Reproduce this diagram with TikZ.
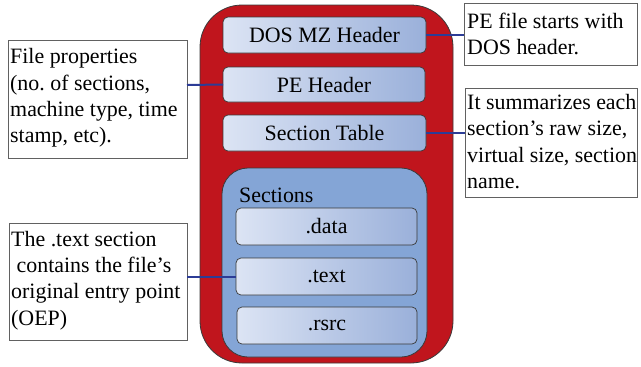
\documentclass[tikz,border=0pt]{standalone}
\usepackage{fontspec}
\setmainfont{Liberation Serif}
\frenchspacing
\definecolor{outerred}{HTML}{C0151D}
\definecolor{secblue}{HTML}{84A5D6}
\definecolor{boxlight}{HTML}{DCE4F4}
\definecolor{boxdark}{HTML}{9AB0DA}
\definecolor{conn}{HTML}{2C3C96}
\definecolor{edge}{HTML}{3A3A3A}
\tikzset{
  fieldbox/.style={draw=edge, line width=0.7bp, rounded corners=5bp, left color=boxlight, right color=boxdark},
  fieldtext/.style={font=\fontsize{22}{26}\selectfont, inner sep=0pt},
  noteframe/.style={draw=edge!80, line width=0.8bp, fill=white},
  notetext/.style={font=\fontsize{22}{26.5}\selectfont, align=left, inner sep=0pt, anchor=west},
  link/.style={draw=conn, line width=2bp}
}
\begin{document}
\begin{tikzpicture}[x=1bp,y=-1bp]
\useasboundingbox (0,0) rectangle (641,366);
% outer container
\draw[draw=edge, line width=0.8bp, fill=outerred, rounded corners=42bp] (200,5) rectangle (453,363);
% header fields
\path[fieldbox] (223,17) rectangle (426,53);
\node[fieldtext] (dos) at (324.5,35) {DOS MZ Header};
\path[fieldbox] (223,67) rectangle (425,102);
\node[fieldtext] (peh) at (324,84.5) {PE Header};
\path[fieldbox] (223,115) rectangle (426,151);
\node[fieldtext] (st) at (324.5,133) {Section Table};
\coordinate (dosE) at (426,35);
\coordinate (pehW) at (223,84.5);
\coordinate (stE) at (426,133);
% sections container
\draw[draw=edge, line width=0.8bp, fill=secblue, rounded corners=26bp] (222,168) rectangle (427,357);
\node[fieldtext, anchor=west] (seclbl) at (239,195) {Sections};
\path[fieldbox] (236,208) rectangle (417,245);
\node[fieldtext] (data) at (326.5,226.5) {.data};
\path[fieldbox] (236,258) rectangle (417,295);
\node[fieldtext] (text) at (326.5,276.5) {.text};
\path[fieldbox] (237,307) rectangle (417,344);
\node[fieldtext] (rsrc) at (327,325.5) {.rsrc};
\coordinate (textW) at (236,276.5);
% note boxes
\path[noteframe] (8,40) rectangle (187,158);
\coordinate (fpE) at (187,85);
\node[notetext] (fp) at (10,98) {File properties\\(no. of sections,\\machine type, time\\stamp, etc).};
\path[noteframe] (9,223) rectangle (187,340);
\coordinate (oepE) at (187,276.5);
\node[notetext] (oep) at (11,280.5) {The .text section\\\hspace{0.25em}contains the file’s\\original entry point\\(OEP)};
\path[noteframe] (464,3) rectangle (637,65);
\coordinate (r1W) at (464,35);
\node[notetext] (r1) at (467,34) {PE file starts with\\DOS header.};
\path[noteframe] (465,88) rectangle (637,197);
\coordinate (r2W) at (465,133);
\node[notetext] (r2) at (467,141.5) {It summarizes each\\section’s raw size,\\virtual size, section\\name.};
% connectors
\draw[link] (dosE) -- (r1W);
\draw[link] (pehW) -- (fpE);
\draw[link] (stE) -- (r2W);
\draw[link] (textW) -- (oepE);
\end{tikzpicture}
\end{document}
